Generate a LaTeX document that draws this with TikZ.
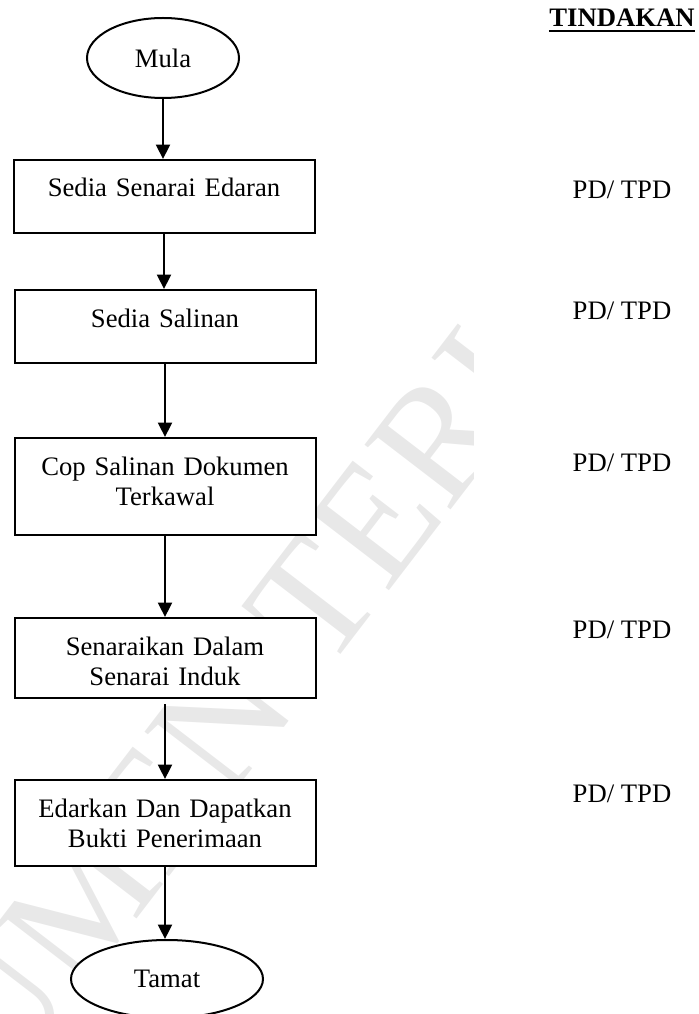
\documentclass[tikz,border=0pt]{standalone}
\usepackage{fontspec}
\setmainfont{Liberation Serif}
\usetikzlibrary{arrows.meta}
\usetikzlibrary{shapes.geometric}
\newlength{\pxl}
\setlength{\pxl}{0.45pt}
\colorlet{wmgray}{black!9}

\tikzset{
  procbox/.style={draw, line width=0.9pt, fill=white, anchor=north, inner sep=0pt,
    text width=301\pxl, align=center, text height=37\pxl},
  termnode/.style={draw, ellipse, line width=0.9pt, fill=white, inner sep=0pt},
  who/.style={inner sep=0pt, anchor=base},
  flow/.style={line width=0.9pt, -{Triangle[length=6.5pt,width=6.3pt]}}
}

\begin{document}
\begin{tikzpicture}[x=\pxl, y=-\pxl, font=\fontsize{12}{13.5}\selectfont]
\useasboundingbox (0,0) rectangle (699,1014);
% watermark
\begin{scope}
    \clip (0,0) rectangle (473,1014);
    \node[text=wmgray, font=\fontsize{74}{74}\selectfont, rotate=52.5, inner sep=0pt] (wmark) at (286,638) {DOKUMEN TERKAWAL};
\end{scope}
% flow
\node[termnode, minimum width=152\pxl, minimum height=80\pxl] (mula) at (163,58) {Mula};
\node[procbox, text depth=36\pxl] (b1) at (164,159) {Sedia Senarai Edaran};
\node[procbox, text depth=36\pxl] (b2) at (165,289) {Sedia Salinan};
\node[procbox, text depth=60\pxl] (b3) at (165,437) {Cop Salinan Dokumen\\ Terkawal};
\node[procbox, text depth=43\pxl] (b4) at (165,617) {Senaraikan Dalam\\ Senarai Induk};
\node[procbox, text depth=49\pxl] (b5) at (165,779) {Edarkan Dan Dapatkan\\ Bukti Penerimaan};
\node[termnode, minimum width=192\pxl, minimum height=78\pxl] (tamat) at (167,979) {Tamat};
\draw[flow] (mula.south) -- (mula.south |- b1.north);
\draw[flow] (b1.south) -- (b1.south |- b2.north);
\draw[flow] (b2.south) -- (b2.south |- b3.north);
\draw[flow] (b3.south) -- (b3.south |- b4.north);
\draw[flow] ([yshift=-5\pxl]b4.south) -- (b4.south |- b5.north);
\draw[flow] (b5.south) -- (b5.south |- tamat.north);
% tindakan column
\node[who, font=\fontsize{12}{13.5}\selectfont\bfseries] (tind) at (622,27) {TINDAKAN};
\draw[line width=0.9pt] ([yshift=-4\pxl]tind.base west) -- ([yshift=-4\pxl]tind.base east);
\foreach \y [count=\i] in {199,319,471,638,802}
    \node[who] (pd\i) at (622,\y) {PD/ TPD};
\end{tikzpicture}
\end{document}
